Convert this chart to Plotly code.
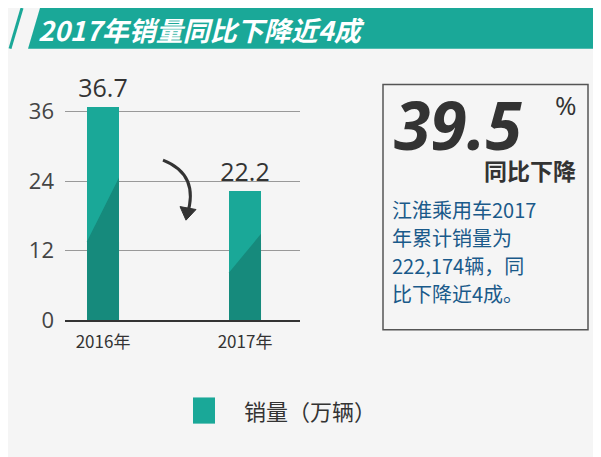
import plotly.graph_objects as go

years = ["2016年", "2017年"]
sales = [36.7, 22.2]
y_ticks = [0, 12, 24, 36]

teal = "#1aa898"
dark_teal = "#168a7c"
# page body adds an 8px margin, so the figure is drawn slightly smaller and offset
OFF = 8
W, H = 601 - OFF, 457 - OFF


def px(x):
    return (x - OFF) / W


def py(y):
    return 1 - (y - OFF) / H


fig = go.Figure()
fig.add_trace(go.Bar(
    x=[0, 1], y=sales, width=0.225, marker=dict(color=teal, line=dict(width=0)),
    text=[f"{v}" for v in sales], textposition="outside", constraintext="none",
    textfont=dict(size=25, color="#333333", family="Open Sans"),
    showlegend=False, cliponaxis=False,
))

shapes = []
# darker diagonal lower part of each bar
for i, v in enumerate(sales):
    x0, x1 = i - 0.1125, i + 0.1125
    shapes.append(dict(type="path", xref="x", yref="y",
                       path=f"M {x0},0 L {x0},{v * 0.37} L {x1},{v * 0.67} L {x1},0 Z",
                       fillcolor=dark_teal, line=dict(width=0), layer="above"))

# header band
shapes.append(dict(type="path", xref="paper", yref="paper",
                   path=f"M {px(28)},{py(50)} L {px(40)},{py(8)} L 1,{py(8)} L 1,{py(50)} Z",
                   fillcolor=teal, line=dict(width=0)))
shapes.append(dict(type="line", xref="paper", yref="paper",
                   x0=px(10), y0=py(50), x1=px(22), y1=py(8),
                   line=dict(color=teal, width=3)))
# curved arrow
shapes.append(dict(type="path", xref="paper", yref="paper",
                   path=f"M {px(163)},{py(165)} Q {px(200)},{py(180)} {px(187)},{py(222)}",
                   line=dict(color="#333333", width=3)))
shapes.append(dict(type="path", xref="paper", yref="paper",
                   path=f"M {px(180)},{py(213)} L {px(186)},{py(227)} L {px(196)},{py(216)} Z",
                   fillcolor="#333333", line=dict(color="#333333", width=1)))
# right box
shapes.append(dict(type="rect", xref="paper", yref="paper",
                   x0=px(383), y0=py(340), x1=px(588), y1=py(87),
                   line=dict(color="#555555", width=1.5), fillcolor="rgba(0,0,0,0)"))
# legend swatch
shapes.append(dict(type="rect", xref="paper", yref="paper",
                   x0=px(193), y0=py(437), x1=px(215), y1=py(410),
                   fillcolor=teal, line=dict(width=0)))

ann = [
    dict(x=px(36), y=py(30), text="<b><i>2017年销量同比下降近4成</i></b>",
         font=dict(size=27, color="white", family="Noto Sans CJK SC"), xanchor="left"),
    dict(x=px(392), y=py(128), text="<b><i>39.5</i></b>",
         font=dict(size=66, color="#333333", family="Open Sans"), xanchor="left"),
    dict(x=px(566), y=py(108), text="%",
         font=dict(size=26, color="#333333", family="Open Sans"), xanchor="center"),
    dict(x=px(578), y=py(175), text="<b>同比下降</b>",
         font=dict(size=23, color="#333333", family="Noto Sans CJK SC"), xanchor="right"),
    dict(x=px(242), y=py(423), text="销量（万辆）",
         font=dict(size=22, color="#333333", family="Noto Sans CJK SC"), xanchor="left"),
]
for k, line in enumerate(["江淮乘用车2017", "年累计销量为", "222,174辆，同", "比下降近4成。"]):
    ann.append(dict(x=px(390), y=py(216 + 29 * k), text=line, xanchor="left",
                    font=dict(size=20, color="#1a5a8a", family="Noto Sans CJK SC")))
for a in ann:
    a.update(xref="paper", yref="paper", showarrow=False, yanchor="middle")

fig.update_layout(
    width=W, height=H, margin=dict(l=0, r=0, t=0, b=0),
    paper_bgcolor="#f5f5f5", plot_bgcolor="#f5f5f5",
    shapes=shapes, annotations=ann, showlegend=False, bargap=0,
    xaxis=dict(domain=[px(65), px(300)], range=[-0.268, 1.387],
               tickvals=[0, 1], ticktext=years, showgrid=False, zeroline=False,
               tickfont=dict(size=17, color="#333333", family="Noto Sans CJK SC"),
               ticks="", showline=True, linecolor="#333333", linewidth=2,
               ticklabelstandoff=6),
    yaxis=dict(domain=[py(330), py(91)], range=[0, 40], tickvals=y_ticks,
               gridcolor="#999999", gridwidth=1, zeroline=False,
               tickfont=dict(size=22, color="#444444", family="Open Sans"),
               ticklabelstandoff=10),
)
fig.write_html("out.html")
